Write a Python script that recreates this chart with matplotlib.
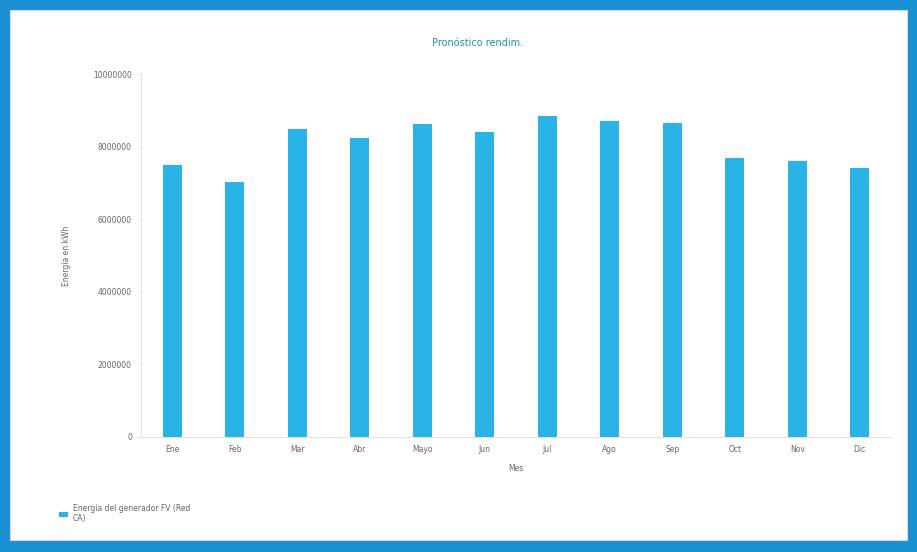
import matplotlib
matplotlib.use("Agg")
import matplotlib.pyplot as plt
from matplotlib.patches import Rectangle, Patch

months = ["Ene", "Feb", "Mar", "Abr", "Mayo", "Jun", "Jul", "Ago", "Sep", "Oct", "Nov", "Dic"]
energy = [7490000, 7020000, 8480000, 8240000, 8620000, 8400000,
          8840000, 8710000, 8650000, 7690000, 7600000, 7410000]
yticks = [0, 2000000, 4000000, 6000000, 8000000, 10000000]

bar_color = "#2ab3e6"
frame_blue = "#1a8fd4"
text_gray = "#666666"

fig = plt.figure(figsize=(9.17, 5.52), dpi=100)
fig.patch.set_facecolor(frame_blue)

# inner white panel
fig.patches.append(Rectangle((10/917, 12/552), (907-10)/917, (542-12)/552,
                             transform=fig.transFigure, facecolor="white",
                             edgecolor="#d8d8d8", linewidth=0.8, zorder=-10))

ax = fig.add_axes([141/917, 1-437/552, 750/917, (437-74)/552])
ax.set_zorder(5)
ax.set_facecolor("white")
x = list(range(len(months)))
ax.bar(x, energy, width=0.3, color=bar_color, zorder=2)
ax.set_xlim(-0.5, len(months) - 0.5)
ax.set_ylim(0, 10000000)
ax.set_yticks(yticks)
ax.set_yticklabels([str(v) for v in yticks])
ax.set_xticks(x)
ax.set_xticklabels(months)
ax.tick_params(axis="both", labelsize=5.5, colors=text_gray, length=3, width=0.5)
ax.tick_params(axis="y", color="#dddddd")
ax.tick_params(axis="x", length=0, pad=6)
for s in ["top", "right"]:
    ax.spines[s].set_visible(False)
ax.spines["left"].set_color("#dddddd")
ax.spines["bottom"].set_color("#dddddd")
ax.spines["left"].set_linewidth(0.6)
ax.spines["bottom"].set_linewidth(0.6)

ax.set_ylabel("Energía en kWh", fontsize=5.5, color=text_gray, labelpad=16)
ax.set_xlabel("Mes", fontsize=5.5, color=text_gray, labelpad=7)

fig.text(478/917, 1-43/552, "Pronóstico rendim.", fontsize=7, color="#2a8fb0",
         ha="center", va="center", zorder=6)

leg = fig.legend(handles=[Patch(facecolor=bar_color, label="Energía del generador FV (Red\nCA)")],
                 loc="upper left", bbox_to_anchor=(52/917, 1-497/552), frameon=False,
                 fontsize=5.5, handlelength=1.2, handleheight=0.6, handletextpad=0.6)
leg.set_zorder(6)
for t in leg.get_texts():
    t.set_color(text_gray)

fig.savefig("out.png", dpi=100, facecolor=fig.get_facecolor())
